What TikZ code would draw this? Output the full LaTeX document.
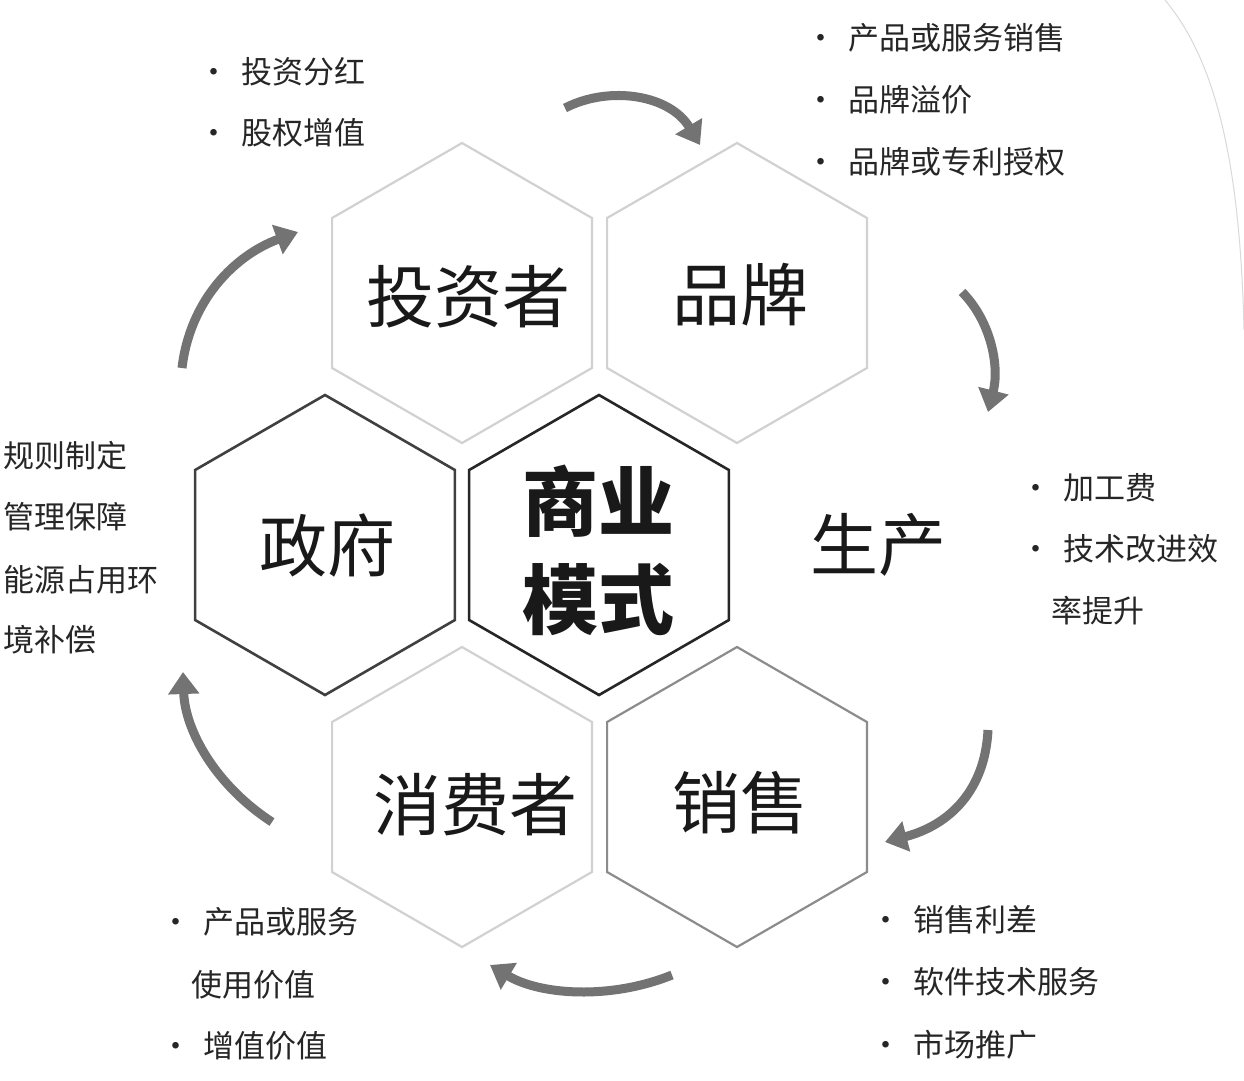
\documentclass[tikz,border=0pt]{standalone}
\usepackage{fontspec}
\setmainfont{Noto Sans CJK SC}
\usetikzlibrary{arrows.meta,shapes.geometric}
\begin{document}
\begin{tikzpicture}[x=1pt,y=-1pt,
  hexlight/.style={regular polygon,regular polygon sides=6,shape border rotate=30,minimum size=300pt,inner sep=0pt,draw=black!18,line width=2.2pt,fill=white},
  hexdark/.style={regular polygon,regular polygon sides=6,shape border rotate=30,minimum size=300pt,inner sep=0pt,draw=black!75,line width=2.6pt,fill=white},
  big/.style={font=\fontsize{68}{72}\selectfont,text=black!90},
  blt/.style={anchor=west,font=\fontsize{31}{34}\selectfont,text=black!85},
  cyc/.style={draw=black!55,line width=9pt,-{Triangle[length=22pt,width=30pt]}}]
\useasboundingbox (0,0) rectangle (1244,1080);
\fill[white] (0,0) rectangle (1244,1080);
% faint arc
\draw[black!15,line width=1pt] (1165,0) .. controls (1215,60) and (1240,160) .. (1244,330);
% hexagons
\node[hexlight] (inv) at (462,293) {};
\node[hexlight] (brand) at (737,293) {};
\node[hexdark] (gov) at (325,545) {};
\node[hexdark,draw=black!85] (core) at (599,545) {};
\node[hexlight] (cons) at (462,797) {};
\node[hexlight,draw=black!45] (sale) at (737,797) {};
\node[big] (tinv) at (468,297) {投资者};
\node[big] (tbrand) at (740,295) {品牌};
\node[big] (tgov) at (327,545) {政府};
\node[big,font=\bfseries\fontsize{76}{98}\selectfont,align=center] (tcore) at (598,550) {商业\\模式};
\node[big] (tprod) at (878,545) {生产};
\node[big] (tcons) at (475,805) {消费者};
\node[big] (tsale) at (740,803) {销售};
% arrows
\coordinate (a1s) at (565,108); \coordinate (a1e) at (700,145);
\draw[cyc] (a1s) .. controls (610,85) and (670,95) .. (a1e);
\coordinate (a2s) at (962,292); \coordinate (a2e) at (988,412);
\draw[cyc] (a2s) .. controls (990,320) and (1000,365) .. (a2e);
\coordinate (a3s) at (988,730); \coordinate (a3e) at (885,842);
\draw[cyc] (a3s) .. controls (985,790) and (950,825) .. (a3e);
\coordinate (a4s) at (672,975); \coordinate (a4e) at (490,965);
\draw[cyc] (a4s) .. controls (610,1000) and (540,995) .. (a4e);
\coordinate (a5s) at (272,822); \coordinate (a5e) at (183,672);
\draw[cyc] (a5s) .. controls (215,785) and (185,730) .. (a5e);
\coordinate (a6s) at (182,368); \coordinate (a6e) at (298,232);
\draw[cyc] (a6s) .. controls (190,300) and (235,255) .. (a6e);
% bullet texts
\node[blt] (b1) at (195,72) {•\hspace{12pt}投资分红};
\node[blt] (b2) at (195,133) {•\hspace{12pt}股权增值};
\node[blt] (b3) at (802,38) {•\hspace{12pt}产品或服务销售};
\node[blt] (b4) at (802,100) {•\hspace{12pt}品牌溢价};
\node[blt] (b5) at (802,162) {•\hspace{12pt}品牌或专利授权};
\node[blt] (b6) at (1017,488) {•\hspace{12pt}加工费};
\node[blt] (b7) at (1017,549) {•\hspace{12pt}技术改进效};
\node[blt] (b8) at (1048,611) {率提升};
\node[blt] (l1) at (0,456) {规则制定};
\node[blt] (l2) at (0,517) {管理保障};
\node[blt] (l3) at (0,580) {能源占用环};
\node[blt] (l4) at (0,640) {境补偿};
\node[blt] (c1) at (157,922) {•\hspace{12pt}产品或服务};
\node[blt] (c2) at (188,985) {使用价值};
\node[blt] (c3) at (157,1046) {•\hspace{12pt}增值价值};
\node[blt] (s1) at (867,920) {•\hspace{12pt}销售利差};
\node[blt] (s2) at (867,982) {•\hspace{12pt}软件技术服务};
\node[blt] (s3) at (867,1045) {•\hspace{12pt}市场推广};
\end{tikzpicture}
\end{document}
